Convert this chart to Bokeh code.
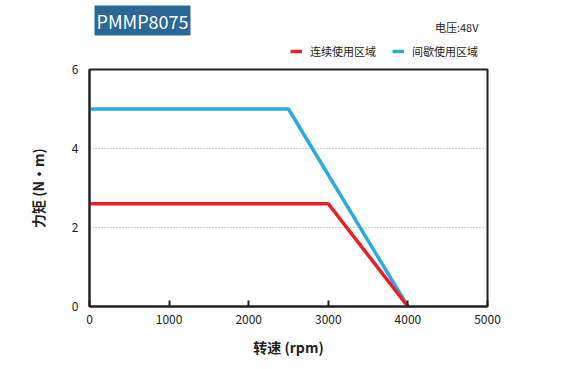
from bokeh.plotting import figure
from bokeh.models import Label, Legend, LegendItem, FixedTicker, Range1d
from bokeh.layouts import column
from bokeh.embed import file_html
from bokeh.resources import INLINE

speed_cont = [0, 3000, 4000]
torque_cont = [2.6, 2.6, 0]
speed_int = [0, 2500, 4000]
torque_int = [5.0, 5.0, 0]
x_ticks = [0, 1000, 2000, 3000, 4000, 5000]
y_ticks = [0, 2, 4, 6]
title_text = "PMMP8075"
voltage_text = "电压:48V"
label_cont = "连续使用区域"
label_int = "间歇使用区域"
color_cont = "#ee1c25"
color_int = "#29abe2"

FONT = "Noto Sans CJK SC"
W = 545
HDR = 60
H = 305
FRAME_LEFT = 89
FRAME_TOP = 69 - HDR
FRAME_BOTTOM = 306 - HDR

# ---- header (title box, voltage, legend); its frame is aligned with the chart frame ----
# its y range lies far above the data, so the series only serve as legend samples here
hf = figure(width=W, height=HDR, output_backend="svg", toolbar_location=None,
            x_axis_type=None, y_axis_type=None,
            x_range=Range1d(0, 5000), y_range=Range1d(100, 101),
            min_border_left=FRAME_LEFT, min_border_right=W - 487,
            min_border_top=0, min_border_bottom=0)
hf.outline_line_color = None
hf.grid.grid_line_color = None
hf.background_fill_color = "white"
hf.border_fill_color = "white"

h_cont = hf.line(speed_cont, torque_cont, line_color=color_cont, line_width=3.5)
h_int = hf.line(speed_int, torque_int, line_color=color_int, line_width=3.5)

hf.add_layout(Label(x=92 - FRAME_LEFT + 2, y=HDR - 20, x_units="screen", y_units="screen",
                    text=title_text, text_font=FONT, text_font_size="18px", text_color="white",
                    text_baseline="middle", background_fill_color="#2c6896", padding=2))
hf.add_layout(Label(x=478 - FRAME_LEFT, y=HDR - 26, x_units="screen", y_units="screen",
                    text=voltage_text, text_font=FONT, text_font_size="11px",
                    text_color="#222222", text_align="right", text_baseline="middle"))

legend = Legend(items=[LegendItem(label=label_cont, renderers=[h_cont]),
                       LegendItem(label=label_int, renderers=[h_int])],
                orientation="horizontal", location=(290 - FRAME_LEFT, HDR - 52 - 7),
                padding=0, margin=0, spacing=16, glyph_width=12, glyph_height=12,
                label_height=12, label_standoff=8,
                label_text_font=FONT, label_text_font_size="11px",
                label_text_color="#222222", border_line_color=None,
                background_fill_alpha=0)
hf.add_layout(legend, "center")

# ---- main chart ----
p = figure(width=W, height=H, output_backend="svg", toolbar_location=None,
           x_range=Range1d(0, 5000), y_range=Range1d(0, 6),
           min_border_left=FRAME_LEFT, min_border_right=W - 487,
           min_border_top=FRAME_TOP, min_border_bottom=H - FRAME_BOTTOM)

p.outline_line_color = "#222222"
p.outline_line_width = 2
p.background_fill_color = "white"
p.border_fill_color = "white"

p.xaxis.ticker = FixedTicker(ticks=x_ticks)
p.yaxis.ticker = FixedTicker(ticks=y_ticks)
for ax in (p.xaxis[0], p.yaxis[0]):
    ax.axis_line_color = "#222222"
    ax.axis_line_width = 2
    ax.minor_tick_line_color = None
    ax.major_label_text_font = FONT
    ax.major_label_text_font_size = "12px"
    ax.major_label_text_color = "#222222"
    ax.axis_label_text_font = FONT
    ax.axis_label_text_font_size = "14px"
    ax.axis_label_text_font_style = "bold"
    ax.axis_label_text_color = "#222222"
p.xaxis.major_tick_in = 6
p.xaxis.major_tick_out = 0
p.xaxis.major_tick_line_width = 2
p.xaxis.major_tick_line_color = "#222222"
p.xaxis.major_label_standoff = 8
p.xaxis.axis_label = "转速 (rpm)"
p.xaxis.axis_label_standoff = 10
p.yaxis.major_tick_line_color = None
p.yaxis.major_tick_in = 0
p.yaxis.major_tick_out = 0
p.yaxis.major_label_standoff = 11
p.yaxis.axis_label = "力矩 (N·m)"
p.yaxis.axis_label_standoff = 21

p.xgrid.grid_line_color = None
p.ygrid.grid_line_color = "#aaaaaa"
p.ygrid.grid_line_dash = "1 2"
p.ygrid.grid_line_width = 1

p.line(speed_int, torque_int, line_color=color_int, line_width=3.5)
p.line(speed_cont, torque_cont, line_color=color_cont, line_width=3.5)

layout = column(hf, p, spacing=0)
open("out.html", "w").write(file_html(layout, INLINE))
